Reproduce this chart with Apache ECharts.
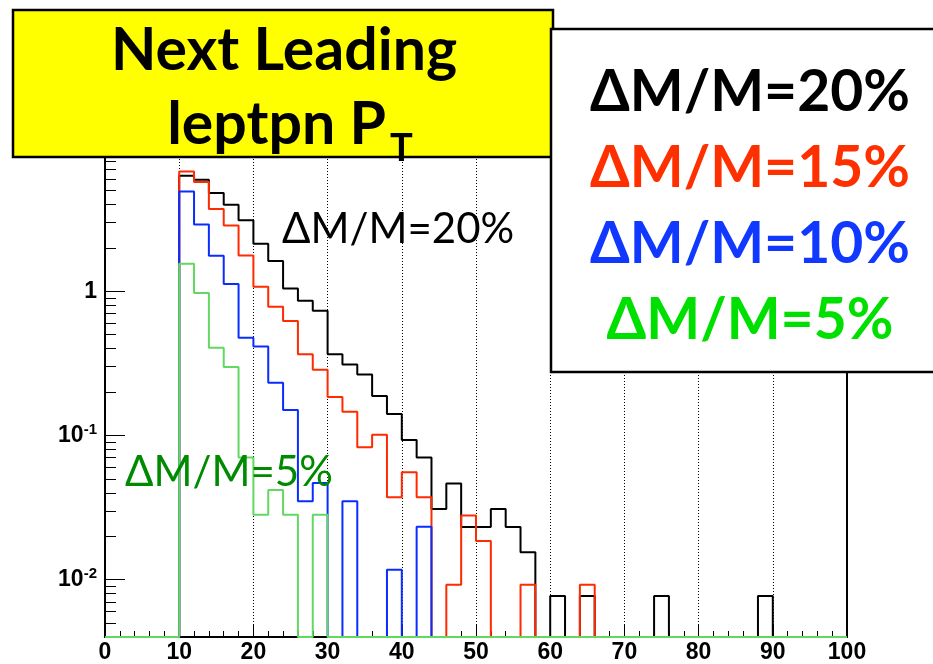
<!DOCTYPE html>
<html>
<head>
<meta charset="utf-8">
<script src="https://cdn.jsdelivr.net/npm/echarts@6/dist/echarts.min.js"></script>
<style>
  html, body { margin: 0; padding: 0; background: #ffffff; }
  #chart { width: 933px; height: 664px; }
</style>
</head>
<body>
<div id="chart"></div>
<script>
// Lower edge of every 2 GeV bin of the next-to-leading lepton pT histogram
const binStart = [
  0, 2, 4, 6, 8, 10, 12, 14, 16, 18,
  20, 22, 24, 26, 28, 30, 32, 34, 36, 38,
  40, 42, 44, 46, 48, 50, 52, 54, 56, 58,
  60, 62, 64, 66, 68, 70, 72, 74, 76, 78,
  80, 82, 84, 86, 88, 90, 92, 94, 96, 98
];
const xMax = 100;

// Bin contents for each mass-splitting hypothesis (0 = empty bin)
const dm20 = [
  0, 0, 0, 0, 0, 6.31, 5.92, 4.79, 3.98, 3.10,
  2.13, 1.62, 1.044, 0.857, 0.731, 0.366, 0.310, 0.264, 0.188, 0.141,
  0.0928, 0.0702, 0.0309, 0.0464, 0.0232, 0.0232, 0.0309, 0.0232, 0.0155, 0,
  0.0077, 0, 0.0077, 0, 0, 0, 0, 0.0077, 0, 0,
  0, 0, 0, 0, 0.0077, 0, 0, 0, 0, 0
];
const dm15 = [
  0, 0, 0, 0, 0, 6.76, 5.71, 3.72, 2.85, 1.77,
  1.074, 0.779, 0.621, 0.366, 0.285, 0.185, 0.146, 0.0827, 0.101, 0.0372,
  0.0556, 0.0372, 0, 0.0092, 0.0278, 0.0185, 0, 0, 0.0092, 0,
  0, 0, 0.0092, 0, 0, 0, 0, 0, 0, 0,
  0, 0, 0, 0, 0, 0, 0, 0, 0, 0
];
const dm10 = [
  0, 0, 0, 0, 0, 4.92, 2.90, 1.76, 1.12, 0.476,
  0.414, 0.232, 0.150, 0.0349, 0.0467, 0, 0.0349, 0, 0, 0.0117,
  0, 0.0233, 0, 0, 0, 0, 0, 0, 0, 0,
  0, 0, 0, 0, 0, 0, 0, 0, 0, 0,
  0, 0, 0, 0, 0, 0, 0, 0, 0, 0
];
const dm5 = [
  0, 0, 0, 0, 0, 1.55, 0.973, 0.406, 0.298, 0.0702,
  0.0282, 0.0419, 0.0282, 0, 0.0282, 0, 0, 0, 0, 0,
  0, 0, 0, 0, 0, 0, 0, 0, 0, 0,
  0, 0, 0, 0, 0, 0, 0, 0, 0, 0,
  0, 0, 0, 0, 0, 0, 0, 0, 0, 0
];

// Axis ranges and the decades that carry a label
const yMin = 0.004;
const yMax = 10;
const yLabelExponents = [0, -1, -2];

const seriesNames = ['ΔM/M=20%', 'ΔM/M=15%', 'ΔM/M=10%', 'ΔM/M=5%'];
const lineColors = ['#000000', '#ff2a00', '#0a2dff', '#62d862'];
const legendColors = ['#000000', '#ff3000', '#1038ff', '#00e000'];

// Histogram outline: each bin value holds until the next edge; empty bins sit on the frame floor
function histPoints(values) {
  const pts = binStart.map((x, i) => [x, values[i] > 0 ? values[i] : yMin]);
  pts.push([xMax, pts[pts.length - 1][1]]);
  return pts;
}

const chart = echarts.init(document.getElementById('chart'), null, { renderer: 'canvas' });

const labelFont = '"Liberation Sans", Arial, sans-serif';
const textFont = 'Lato, "Open Sans", sans-serif';

function measure(text, font) {
  const ctx = document.createElement('canvas').getContext('2d');
  ctx.font = font;
  return ctx.measureText(text).width;
}

// Title box: "leptpn P" followed by a subscript T, centred as one unit
const titleSize = 59, subSize = 38;
const line2 = 'leptpn P';
const line2W = measure(line2, 'bold ' + titleSize + 'px ' + textFont);
const subW = measure('T', 'bold ' + subSize + 'px ' + textFont);
const line2Left = 290 - (line2W + 4 + subW) / 2;

const option = {
  animation: false,
  backgroundColor: '#ffffff',
  grid: {
    left: 105, right: 86, top: 147, bottom: 24,
    show: true, borderColor: '#000', borderWidth: 2,
    backgroundColor: 'transparent',
    containLabel: false
  },
  xAxis: {
    type: 'value', min: 0, max: xMax, interval: 10,
    axisLine: { show: true, onZero: false, lineStyle: { color: '#000', width: 2 } },
    axisTick: { show: true, inside: true, length: 12, lineStyle: { color: '#000', width: 1 } },
    minorTick: { show: true, splitNumber: 5, length: 6, lineStyle: { color: '#000', width: 1 } },
    splitLine: { show: true, lineStyle: { color: '#000', width: 1, type: [1, 2] } },
    axisLabel: {
      show: true, color: '#000', fontFamily: labelFont, fontWeight: 'bold',
      fontSize: 23, margin: 4
    }
  },
  yAxis: {
    type: 'log', logBase: 10, min: yMin, max: yMax,
    axisLine: { show: true, lineStyle: { color: '#000', width: 2 } },
    axisTick: { show: true, inside: true, length: 20, lineStyle: { color: '#000', width: 1 } },
    minorTick: { show: true, splitNumber: 9, length: 11, lineStyle: { color: '#000', width: 1 } },
    splitLine: { show: false },
    axisLabel: {
      show: true, margin: 8, color: '#000',
      formatter: function (v) {
        const e = Math.round(Math.log10(v));
        if (Math.abs(Math.log10(v) - e) > 1e-6 || yLabelExponents.indexOf(e) < 0) return '';
        if (e === 0) return '{b|1}';
        return '{b|10}{s|' + e + '}';
      },
      rich: {
        b: { fontFamily: labelFont, fontWeight: 'bold', fontSize: 23, color: '#000' },
        s: { fontFamily: labelFont, fontWeight: 'bold', fontSize: 15, color: '#000', padding: [0, 0, 12, 0] }
      }
    }
  },
  series: [dm20, dm15, dm10, dm5].map((vals, k) => ({
    name: seriesNames[k],
    type: 'line',
    step: 'end',
    symbol: 'none',
    clip: false,
    z: 2 + k,
    lineStyle: { color: lineColors[k], width: 2 },
    data: histPoints(vals)
  })),
  graphic: [
    {
      type: 'rect', z: 100,
      shape: { x: 13, y: 10, width: 540, height: 147 },
      style: { fill: '#ffff00', stroke: '#000', lineWidth: 2.5 }
    },
    {
      type: 'text', z: 101, x: 284, y: 51,
      style: { text: 'Next Leading', font: 'bold ' + titleSize + 'px ' + textFont, fill: '#000', align: 'center', verticalAlign: 'middle' }
    },
    {
      type: 'text', z: 101, x: line2Left, y: 125,
      style: { text: line2, font: 'bold ' + titleSize + 'px ' + textFont, fill: '#000', align: 'left', verticalAlign: 'middle' }
    },
    {
      type: 'text', z: 101, x: line2Left + line2W + 4, y: 149,
      style: { text: 'T', font: 'bold ' + subSize + 'px ' + textFont, fill: '#000', align: 'left', verticalAlign: 'middle' }
    },
    {
      type: 'rect', z: 100,
      shape: { x: 551, y: 29, width: 400, height: 343 },
      style: { fill: '#ffffff', stroke: '#000', lineWidth: 2.5 }
    },
    ...seriesNames.map((name, k) => ({
      type: 'text', z: 101, x: 750, y: 93 + k * 76,
      style: { text: name, font: 'bold 57px ' + textFont, fill: legendColors[k], align: 'center', verticalAlign: 'middle' }
    })),
    {
      type: 'text', z: 101, x: 282, y: 229,
      style: { text: seriesNames[0], font: '42px ' + textFont, fill: '#000', align: 'left', verticalAlign: 'middle' }
    },
    {
      type: 'text', z: 101, x: 125, y: 472,
      style: { text: seriesNames[3], font: '42px ' + textFont, fill: '#008a00', align: 'left', verticalAlign: 'middle' }
    }
  ]
};

chart.setOption(option);
</script>
</body>
</html>
